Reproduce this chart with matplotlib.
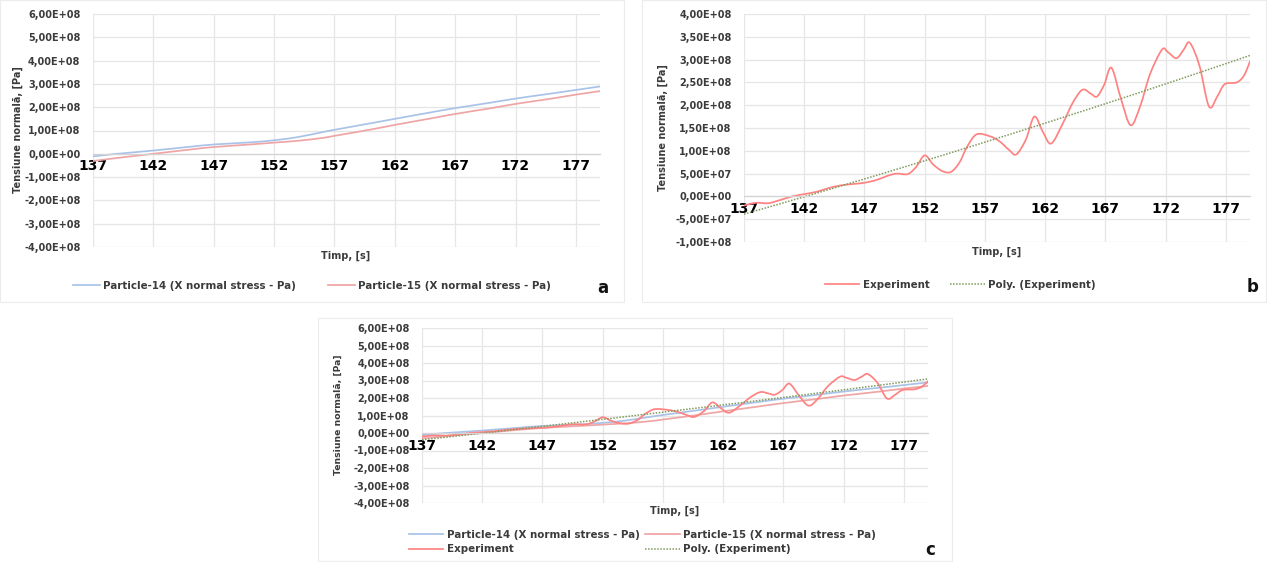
import numpy as np
import matplotlib
matplotlib.use("Agg")
import matplotlib.pyplot as plt
from matplotlib.path import Path
from matplotlib.patches import PathPatch, Rectangle
from matplotlib.lines import Line2D

# ---- data -------------------------------------------------------------
part_t = [137, 139, 142, 145, 147, 150, 152, 154, 156, 157, 160, 162, 165,
          167, 170, 172, 175, 177, 179]
particle14 = [-1.1e7, 0.0, 1.4e7, 3.0e7, 4.0e7, 4.9e7, 5.8e7, 7.2e7, 9.3e7,
              1.03e8, 1.31e8, 1.50e8, 1.78e8, 1.96e8, 2.20e8, 2.37e8, 2.59e8,
              2.74e8, 2.89e8]
particle15 = [-3.1e7, -1.8e7, 0.0, 1.8e7, 2.9e7, 4.0e7, 4.8e7, 5.6e7, 6.8e7,
              7.7e7, 1.04e8, 1.24e8, 1.52e8, 1.71e8, 1.96e8, 2.14e8, 2.37e8,
              2.54e8, 2.69e8]

exp_t = [137, 138, 139, 140, 141, 142, 143, 144, 145, 146, 147, 148, 149,
         149.7, 150.6, 151.3, 152.0, 152.7, 153.5, 154.2, 154.9, 155.5, 156.3,
         157.4, 158.2, 159.0, 159.6, 160.4, 161.1, 161.8, 162.5, 163.5, 164.3,
         165.1, 165.8, 166.3, 166.9, 167.5, 168.3, 169.1, 169.9, 170.7, 171.7,
         172.2, 172.9, 173.5, 174.0, 174.8, 175.6, 176.3, 176.9, 177.9, 178.5,
         179.0]
experiment = [-2.0e7, -1.4e7, -1.5e7, -8e6, 0.0, 5e6, 1.0e7, 1.8e7, 2.4e7,
              2.7e7, 3.0e7, 3.6e7, 4.6e7, 5.0e7, 4.9e7, 6.5e7, 9.0e7, 7.0e7,
              5.5e7, 5.4e7, 7.5e7, 1.08e8, 1.36e8, 1.32e8, 1.21e8, 1.02e8,
              9.2e7, 1.25e8, 1.75e8, 1.42e8, 1.16e8, 1.62e8, 2.06e8, 2.34e8,
              2.25e8, 2.19e8, 2.45e8, 2.82e8, 2.13e8, 1.56e8, 1.99e8, 2.68e8,
              3.22e8, 3.16e8, 3.03e8, 3.22e8, 3.37e8, 2.87e8, 1.97e8, 2.20e8,
              2.46e8, 2.50e8, 2.65e8, 2.96e8]

x_ticks = [137, 142, 147, 152, 157, 162, 167, 172, 177]
x_range = (137, 179)

labels = {
    "p14": "Particle-14 (X normal stress - Pa)",
    "p15": "Particle-15 (X normal stress - Pa)",
    "exp": "Experiment",
    "poly": "Poly. (Experiment)",
}
ylabel = "Tensiune normală, [Pa]"
xlabel = "Timp, [s]"

# ---- styles -----------------------------------------------------------
C_P14 = "#a9c3e8"
C_P15 = "#efa5a5"
C_EXP = "#ff8282"
C_POLY = "#7f9a5c"
TXT = "#3b3b3b"
GRID = "#e6e6e6"
FS = 7.0
LFS = 7.4
DOT = (0, (1, 1))

plt.rcParams["font.family"] = ["DejaVu Sans"]
plt.rcParams["font.weight"] = "bold"

W, H = 1267, 562
fig = plt.figure(figsize=(W / 100, H / 100), dpi=100)


def fx(x):
    return x / W


def fy(y):
    return 1 - y / H


def box(l, t, r, b):
    return [fx(l), fy(b), fx(r) - fx(l), fy(t) - fy(b)]


def sci_label(v):
    if v == 0:
        return "0,00E+00"
    return f"{v:.2E}".replace(".", ",")


def smooth_path(ax, xs, ys, **kw):
    """Excel-style smoothed line: Catmull-Rom segments as cubic Beziers."""
    xs = np.asarray(xs, float)
    ys = np.asarray(ys, float)
    n = len(xs)
    verts = [(xs[0], ys[0])]
    codes = [Path.MOVETO]
    for i in range(n - 1):
        i0 = max(i - 1, 0)
        i3 = min(i + 2, n - 1)
        c1 = (xs[i] + (xs[i + 1] - xs[i0]) / 6, ys[i] + (ys[i + 1] - ys[i0]) / 6)
        c2 = (xs[i + 1] - (xs[i3] - xs[i]) / 6, ys[i + 1] - (ys[i3] - ys[i]) / 6)
        verts += [c1, c2, (xs[i + 1], ys[i + 1])]
        codes += [Path.CURVE4] * 3
    patch = PathPatch(Path(verts, codes), fill=False, transform=ax.transData,
                      capstyle="round", joinstyle="round", **kw)
    ax.add_patch(patch)
    return patch


def setup(ax, ylim, ystep):
    ax.set_xlim(*x_range)
    ax.set_ylim(*ylim)
    yt = np.arange(ylim[0], ylim[1] + ystep / 2, ystep)
    ax.set_yticks(yt)
    ax.set_yticklabels([sci_label(v) for v in yt], fontsize=FS, color=TXT,
                       fontweight="bold")
    ax.set_xticks(x_ticks)
    ax.set_xticklabels([str(v) for v in x_ticks], fontsize=FS, color=TXT,
                       fontweight="bold")
    ax.grid(True, color=GRID, lw=0.9)
    ax.set_axisbelow(True)
    for s in ("top", "right", "left"):
        ax.spines[s].set_visible(False)
    ax.spines["bottom"].set_position(("data", 0))
    ax.spines["bottom"].set_color("#d4d4d4")
    ax.spines["bottom"].set_linewidth(0.9)
    ax.tick_params(axis="both", length=0)
    ax.tick_params(axis="y", pad=9)
    ax.tick_params(axis="x", pad=4)
    ax.patch.set_alpha(0)


def line(color, label, dotted=False):
    if dotted:
        return Line2D([], [], color=color, lw=1.1, ls=DOT, label=label)
    return Line2D([], [], color=color, lw=1.25, label=label)


# panel frames
for l, t, r, b in [(0, 0, 624, 302), (642, 0, 1266, 302), (318, 318, 952, 561)]:
    fig.patches.append(Rectangle((fx(l), fy(b)), fx(r) - fx(l), fy(t) - fy(b),
                                 transform=fig.transFigure, fill=False,
                                 ec="#ececec", lw=0.8))

lw = 1.25
coef = np.polyfit(exp_t, experiment, 2)
poly_t = np.linspace(x_range[0], x_range[1], 43)
poly_v = np.polyval(coef, poly_t)

# ---- panel a ----------------------------------------------------------
ax_a = fig.add_axes(box(93, 14, 600, 247))
setup(ax_a, (-4e8, 6e8), 1e8)
smooth_path(ax_a, part_t, particle14, ec=C_P14, lw=lw)
smooth_path(ax_a, part_t, particle15, ec=C_P15, lw=lw)
fig.text(fx(18), fy(130), ylabel, rotation=90, ha="center", va="center",
         fontsize=FS, color=TXT, fontweight="bold")
fig.text(fx(346), fy(256), xlabel, ha="center", va="center", fontsize=FS,
         color=TXT, fontweight="bold")
fig.legend(handles=[line(C_P14, labels["p14"]), line(C_P15, labels["p15"])],
           loc="center", bbox_to_anchor=(fx(312), fy(286)), ncol=2,
           frameon=False, fontsize=LFS, handlelength=2.6,
           handletextpad=0.3, columnspacing=3.2, labelcolor=TXT)
fig.text(fx(603), fy(288), "a", ha="center", va="center", fontsize=12,
         color="#111111", fontweight="bold")

# ---- panel b ----------------------------------------------------------
ax_b = fig.add_axes(box(744, 14, 1250, 242))
setup(ax_b, (-1e8, 4e8), 5e7)
smooth_path(ax_b, exp_t, experiment, ec=C_EXP, lw=lw)
ax_b.plot(poly_t, poly_v, color=C_POLY, lw=1.1, ls=DOT)
fig.text(fx(663), fy(128), ylabel, rotation=90, ha="center", va="center",
         fontsize=FS, color=TXT, fontweight="bold")
fig.text(fx(997), fy(252), xlabel, ha="center", va="center", fontsize=FS,
         color=TXT, fontweight="bold")
fig.legend(handles=[line(C_EXP, labels["exp"]),
                    line(C_POLY, labels["poly"], dotted=True)],
           loc="center", bbox_to_anchor=(fx(960), fy(285)), ncol=2,
           frameon=False, fontsize=LFS, handlelength=3.4,
           handletextpad=0.3, columnspacing=2.0, labelcolor=TXT)
fig.text(fx(1253), fy(287), "b", ha="center", va="center", fontsize=12,
         color="#111111", fontweight="bold")

# ---- panel c ----------------------------------------------------------
ax_c = fig.add_axes(box(422, 328, 928, 503))
setup(ax_c, (-4e8, 6e8), 1e8)
smooth_path(ax_c, part_t, particle14, ec=C_P14, lw=lw)
smooth_path(ax_c, part_t, particle15, ec=C_P15, lw=lw)
smooth_path(ax_c, exp_t, experiment, ec=C_EXP, lw=lw)
ax_c.plot(poly_t, poly_v, color=C_POLY, lw=1.1, ls=DOT)
fig.text(fx(338), fy(415), ylabel, rotation=90, ha="center", va="center",
         fontsize=FS - 0.3, color=TXT, fontweight="bold")
fig.text(fx(675), fy(511), xlabel, ha="center", va="center", fontsize=FS,
         color=TXT, fontweight="bold")
fig.legend(handles=[line(C_P14, labels["p14"]), line(C_EXP, labels["exp"]),
                    line(C_P15, labels["p15"]),
                    line(C_POLY, labels["poly"], dotted=True)],
           loc="center", bbox_to_anchor=(fx(642), fy(542)), ncol=2,
           frameon=False, fontsize=LFS, handlelength=3.4,
           handletextpad=0.3, columnspacing=0.5, labelcolor=TXT,
           labelspacing=0.45)
fig.text(fx(930), fy(550), "c", ha="center", va="center", fontsize=12,
         color="#111111", fontweight="bold")

fig.savefig("out.png", dpi=100, facecolor="white")
